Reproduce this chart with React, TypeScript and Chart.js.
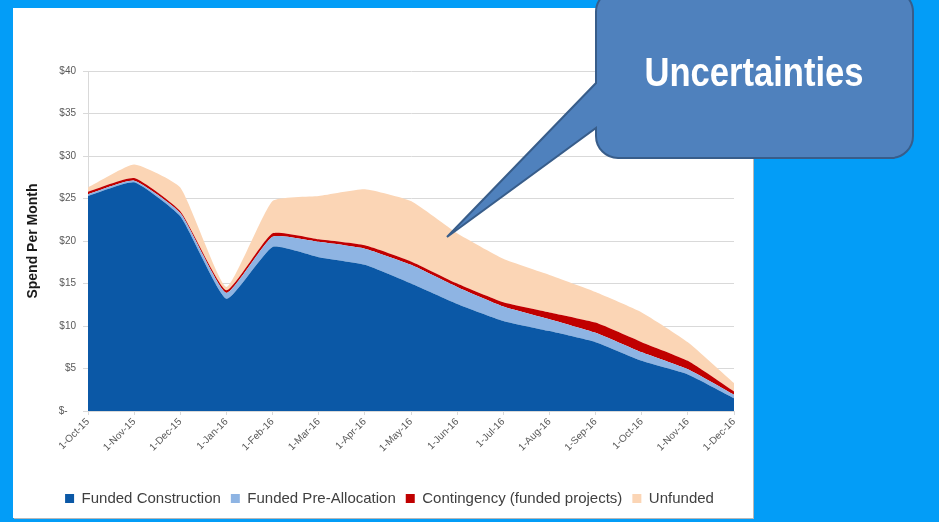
import React, { useEffect, useRef } from "react";
import { Chart, registerables } from "chart.js";

Chart.register(...registerables);

const categories = [
  "1-Oct-15", "1-Nov-15", "1-Dec-15", "1-Jan-16", "1-Feb-16", "1-Mar-16", "1-Apr-16",
  "1-May-16", "1-Jun-16", "1-Jul-16", "1-Aug-16", "1-Sep-16", "1-Oct-16", "1-Nov-16", "1-Dec-16",
];

const fundedConstruction = [25.3, 26.9, 22.9, 13.2, 19.3, 18.1, 17.2, 15.0, 12.6, 10.6, 9.4, 8.1, 5.9, 4.3, 1.5];
const fundedPreAllocation = [0.2, 0.2, 0.4, 0.7, 1.2, 1.8, 1.9, 2.2, 2.0, 1.7, 1.4, 1.1, 1.0, 0.6, 0.4];
const contingency = [0.3, 0.3, 0.2, 0.3, 0.4, 0.3, 0.4, 0.4, 0.4, 0.5, 0.8, 1.2, 1.2, 1.0, 0.4];
const unfunded = [0.5, 1.6, 2.8, 0.4, 3.8, 5.1, 6.6, 7.1, 5.9, 5.1, 4.4, 3.6, 3.5, 2.2, 1.0];

const yTicks = [0, 5, 10, 15, 20, 25, 30, 35, 40];

const LEGEND_SHIFT = 10;

export default function App() {
  const ref = useRef<HTMLCanvasElement>(null);

  useEffect(() => {
    if (!ref.current) return;
    const mk = (label: string, data: number[], color: string, fill: any) => ({
      label,
      data,
      backgroundColor: color,
      borderColor: color,
      borderWidth: 0,
      pointRadius: 0,
      fill,
      tension: 0.15,
    });
    const shiftLegend = {
      id: "shiftLegend",
      afterLayout(chart: any) {
        if (chart.legend) {
          chart.legend.left += LEGEND_SHIFT;
          chart.legend.right += LEGEND_SHIFT;
        }
      },
    };
    const chart = new Chart(ref.current, {
      type: "line",
      data: {
        labels: categories,
        datasets: [
          mk("Funded Construction", fundedConstruction, "#0B58A6", "origin"),
          mk("Funded Pre-Allocation", fundedPreAllocation, "#8EB4E3", "-1"),
          mk("Contingency (funded projects)", contingency, "#C00000", "-1"),
          mk("Unfunded", unfunded, "#FBD5B5", "-1"),
        ],
      },
      options: {
        animation: false,
        responsive: false,
        layout: { autoPadding: false, padding: { top: 63, right: 19, left: 12, bottom: 2 } } as any,
        plugins: {
          legend: {
            position: "bottom",
            labels: {
              boxWidth: 9,
              boxHeight: 9,
              padding: 10,
              color: "#404040",
              font: { family: "'Liberation Sans', Arial, sans-serif", size: 15 },
            },
          },
          tooltip: { enabled: false },
        },
        scales: {
          x: {
            stacked: true,
            offset: false,
            afterFit: (s: any) => { s.height = 70; },
            grid: { display: true, drawOnChartArea: false, tickLength: 4, color: "#d9d9d9" },
            border: { color: "#d9d9d9" },
            ticks: {
              maxRotation: 45,
              minRotation: 45,
              autoSkip: false,
              color: "#595959",
              font: { family: "'Liberation Sans', Arial, sans-serif", size: 10 },
              padding: 1,
            },
          },
          y: {
            stacked: true,
            min: 0,
            max: 40,
            afterFit: (s: any) => { s.width = 63; },
            afterBuildTicks: (s: any) => { s.ticks = yTicks.map((v) => ({ value: v })); },
            grid: { color: "#d9d9d9", tickLength: 5 },
            border: { color: "#d9d9d9" },
            ticks: {
              color: "#595959",
              font: { family: "'Liberation Sans', Arial, sans-serif", size: 10 },
              padding: 7,
              callback: (v: any) => (Number(v) === 0 ? "$-   " : "$" + v),
            },
            title: {
              display: true,
              text: "Spend Per Month",
              color: "#1a1a1a",
              font: { family: "'Liberation Sans', Arial, sans-serif", size: 14, weight: "bold" },
              padding: { top: 0, bottom: 4 },
            },
          },
        },
      },
      plugins: [shiftLegend],
    } as any);
    return () => chart.destroy();
  }, []);

  return (
    <div style={{ position: "fixed", left: 0, top: 0, width: 939, height: 522, background: "#039DF7", overflow: "hidden" }}>
      <div
        style={{
          position: "absolute",
          left: 13,
          top: 8,
          width: 740,
          height: 510,
          background: "#ffffff",
          boxShadow: "1px 1px 0 #b8b8b8",
        }}
      >
        <canvas ref={ref} width={740} height={510} style={{ width: 740, height: 510, display: "block" }} />
      </div>
      <svg width={939} height={522} style={{ position: "absolute", left: 0, top: 0 }}>
        <path
          d="M 618 -10 H 891 A 22 22 0 0 1 913 12 V 136 A 22 22 0 0 1 891 158 H 618 A 22 22 0 0 1 596 136 V 128 L 447 237 L 596 83 V 12 A 22 22 0 0 1 618 -10 Z"
          fill="#4F81BD"
          stroke="#385D8A"
          strokeWidth={2}
        />
        <text
          x={754}
          y={86}
          textAnchor="middle"
          fill="#ffffff"
          fontFamily="'Liberation Sans', Arial, sans-serif"
          fontWeight="bold"
          fontSize={40}
          textLength={219}
          lengthAdjust="spacingAndGlyphs"
        >
          Uncertainties
        </text>
      </svg>
    </div>
  );
}
